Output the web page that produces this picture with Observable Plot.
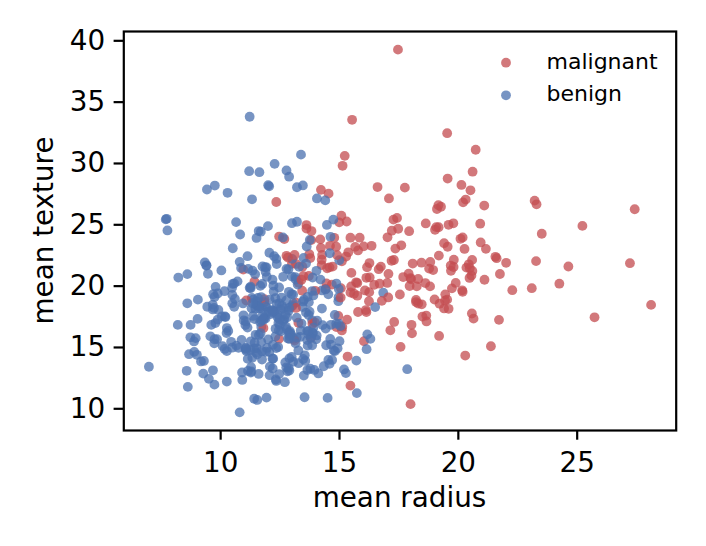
<!DOCTYPE html>
<html>
<head>
<meta charset="utf-8">
<script src="https://cdn.jsdelivr.net/npm/d3@7"></script>
<script src="https://cdn.jsdelivr.net/npm/@observablehq/plot@0.6"></script>
<style>
  html, body { margin: 0; padding: 0; background: white; }
  svg { display: block; }
</style>
</head>
<body>
<div id="chart"></div>
<script>
// mean radius (x) per sample, in data order
const radius = [
17.99,20.57,19.69,11.42,20.29,12.45,18.25,13.71,13,12.46,
16.02,15.78,19.17,15.85,13.73,14.54,14.68,16.13,19.81,13.54,
13.08,9.504,15.34,21.16,16.65,17.14,14.58,18.61,15.3,17.57,
18.63,11.84,17.02,19.27,16.13,16.74,14.25,13.03,14.99,13.48,
13.44,10.95,19.07,13.28,13.17,18.65,8.196,13.17,12.05,13.49,
11.76,13.64,11.94,18.22,15.1,11.52,19.21,14.71,13.05,8.618,
10.17,8.598,14.25,9.173,12.68,14.78,9.465,11.31,9.029,12.78,
18.94,8.888,17.2,13.8,12.31,16.07,13.53,18.05,20.18,12.86,
11.45,13.34,25.22,19.1,12,18.46,14.48,19.02,12.36,14.64,
14.62,15.37,13.27,13.45,15.06,20.26,12.18,9.787,11.6,14.42,
13.61,6.981,12.18,9.876,10.49,13.11,11.64,12.36,22.27,11.34,
9.777,12.63,14.26,10.51,8.726,11.93,8.95,14.87,15.78,17.95,
11.41,18.66,24.25,14.5,13.37,13.85,13.61,19,15.1,19.79,
12.19,15.46,16.16,15.71,18.45,12.77,11.71,11.43,14.95,11.28,
9.738,16.11,11.43,12.9,10.75,11.9,11.8,14.95,14.44,13.74,
13,8.219,9.731,11.15,13.15,12.25,17.68,16.84,12.06,10.9,
11.75,19.19,19.59,12.34,23.27,14.97,10.8,16.78,17.47,14.97,
12.32,13.43,15.46,11.08,10.66,8.671,9.904,16.46,13.01,12.81,
27.22,21.09,15.7,11.41,15.28,10.08,18.31,11.71,11.81,12.3,
14.22,12.77,9.72,12.34,14.86,12.91,13.77,18.08,19.18,14.45,
12.23,17.54,23.29,13.81,12.47,15.12,9.876,17.01,13.11,15.27,
20.58,11.84,28.11,17.42,14.19,13.86,11.89,10.2,19.8,19.53,
13.65,13.56,10.18,15.75,13.27,14.34,10.44,15,12.62,12.83,
17.05,11.32,11.22,20.51,9.567,14.03,23.21,20.48,14.22,17.46,
13.64,12.42,11.3,13.75,19.4,10.48,13.2,12.89,10.65,11.52,
20.94,11.5,19.73,17.3,19.45,13.96,19.55,15.32,15.66,15.53,
20.31,17.35,17.29,15.61,17.19,20.73,10.6,13.59,12.87,10.71,
14.29,11.29,21.75,9.742,17.93,11.89,11.33,18.81,13.59,13.85,
19.16,11.74,19.4,16.24,12.89,12.58,11.94,12.89,11.26,11.37,
14.41,14.96,12.95,11.85,12.72,13.77,10.91,11.76,14.26,10.51,
19.53,12.46,20.09,10.49,11.46,11.6,13.2,9,13.5,13.05,
11.7,14.61,12.76,11.54,8.597,12.49,12.18,18.22,9.042,12.43,
10.25,20.16,12.86,20.34,12.2,12.67,14.11,12.03,16.27,16.26,
16.03,12.98,11.22,11.25,12.3,17.06,12.99,18.77,10.05,23.51,
14.42,9.606,11.06,19.68,11.71,10.26,12.06,14.76,11.47,11.95,
11.66,15.75,25.73,15.08,11.14,12.56,13.05,13.87,8.878,9.436,
12.54,13.3,12.76,16.5,13.4,20.44,20.2,12.21,21.71,22.01,
16.35,15.19,21.37,20.64,13.69,16.17,10.57,13.46,13.66,11.08,
11.27,11.04,12.05,12.39,13.28,14.6,12.21,13.88,11.27,19.55,
10.26,8.734,15.49,21.61,12.1,14.06,13.51,12.8,11.06,11.8,
17.91,11.93,12.96,12.94,12.34,10.94,16.14,12.85,17.99,12.27,
11.36,11.04,9.397,14.99,15.13,11.89,9.405,15.5,12.7,11.16,
11.57,14.69,11.61,13.66,9.742,10.03,10.48,10.8,11.13,12.72,
14.9,12.4,20.18,18.82,14.86,13.98,12.87,14.04,13.85,14.02,
10.97,17.27,13.78,10.57,18.03,11.99,17.75,14.8,14.53,21.1,
11.87,19.59,12,14.53,12.62,13.38,11.63,13.21,13,9.755,
17.08,27.42,14.4,11.6,13.17,13.24,13.14,9.668,17.6,11.62,
9.667,12.04,14.92,12.27,10.88,12.83,14.2,13.9,11.49,16.25,
12.16,13.9,13.47,13.7,15.73,12.45,14.64,19.44,11.68,16.69,
12.25,17.85,18.01,12.46,13.16,14.87,12.65,12.47,18.49,20.59,
15.04,13.82,12.54,23.09,9.268,9.676,12.22,11.06,16.3,15.46,
11.74,14.81,13.4,14.58,15.05,11.34,18.31,19.89,12.88,12.75,
9.295,24.63,11.26,13.71,9.847,8.571,13.46,12.34,13.94,12.07,
11.75,11.67,13.68,20.47,10.96,20.55,14.27,11.69,7.729,7.691,
11.54,14.47,14.74,13.21,13.87,13.62,10.32,10.26,9.683,10.82,
10.86,11.13,12.77,9.333,12.88,10.29,10.16,9.423,14.59,11.51,
14.05,11.2,15.22,20.92,21.56,20.13,16.6,20.6,7.76
];

// mean texture (y) per sample, same order
const texture = [
10.38,17.77,21.25,20.38,14.34,15.7,19.98,20.83,21.82,24.04,
23.24,17.89,24.8,23.95,22.61,27.54,20.13,20.68,22.15,14.36,
15.71,12.44,14.26,23.04,21.38,16.4,21.53,20.25,25.27,15.05,
25.11,18.7,23.98,26.47,17.88,21.59,21.72,18.42,25.2,20.82,
21.58,21.35,24.81,20.28,21.81,17.6,16.84,18.66,14.63,22.3,
21.6,16.34,18.24,18.7,22.02,18.75,18.57,21.59,19.31,11.79,
14.88,20.98,22.15,13.86,23.84,23.94,21.01,19.04,17.33,16.49,
21.31,14.64,24.52,15.79,16.52,19.65,10.94,16.15,23.97,18,
20.97,15.86,24.91,26.29,15.65,18.52,21.46,24.59,21.8,15.24,
24.02,22.76,14.76,18.3,19.83,23.03,17.84,19.94,12.84,19.77,
24.98,13.43,20.52,19.4,19.29,15.56,18.33,18.54,19.67,21.26,
16.99,20.76,19.65,20.19,15.83,21.53,15.76,16.67,22.91,20.01,
10.82,17.12,20.2,10.89,16.39,17.21,24.69,18.91,16.39,25.12,
13.29,19.48,21.54,13.93,21.91,22.47,16.67,15.39,17.57,13.39,
11.97,18.05,17.31,15.92,14.97,14.65,16.58,18.77,15.18,17.91,
20.78,20.7,15.34,13.08,15.34,17.94,20.74,19.46,12.74,12.96,
20.18,15.94,18.15,22.22,22.04,19.76,9.71,18.8,24.68,16.95,
12.39,19.63,11.89,14.71,15.15,14.45,18.06,20.11,22.22,13.06,
21.87,26.57,20.31,14.92,22.41,15.11,18.58,17.19,17.39,15.9,
23.12,21.41,18.22,26.86,23.21,16.33,22.29,21.84,22.49,20.22,
19.56,19.32,26.67,23.75,18.6,16.68,17.27,20.26,22.54,12.91,
22.14,18.94,18.47,25.56,23.81,16.93,18.35,17.48,21.56,32.47,
13.16,13.9,17.53,20.25,17.02,13.47,15.46,15.51,23.97,22.33,
19.08,27.08,33.81,27.81,15.91,21.25,26.97,21.46,27.85,39.28,
15.6,15.04,18.19,23.77,23.5,19.86,17.43,14.11,25.22,14.93,
23.56,18.45,19.82,17.08,19.33,17.05,28.77,17.27,23.2,33.56,
27.06,23.06,22.13,19.38,22.07,31.12,18.95,21.84,16.21,20.39,
16.82,13.04,20.99,15.67,24.48,17.36,14.16,19.98,17.84,15.18,
26.6,14.02,18.18,18.77,15.7,18.4,20.76,13.12,19.96,18.89,
19.73,19.1,16.02,17.46,13.78,13.27,12.35,18.14,18.17,23.09,
18.9,19.89,23.86,18.61,18.16,24.49,15.82,14.4,12.71,13.84,
19.11,15.69,13.37,10.72,18.6,16.85,14.08,18.87,18.9,17,
16.18,19.66,13.32,21.51,15.21,17.3,12.88,17.93,20.71,21.88,
15.51,19.35,19.86,14.78,19.02,21,14.23,21.43,17.53,24.27,
16.54,16.84,14.96,21.68,15.45,12.22,18.9,14.74,16.03,14.96,
17.07,19.22,17.46,25.74,14.07,19.07,18.59,16.21,15.49,18.32,
18.07,21.57,18.84,18.29,16.95,21.78,26.83,18.02,17.25,21.9,
23.29,13.21,15.1,17.35,16.07,16.07,20.22,28.21,15.15,18.83,
12.96,14.93,22.72,17.48,13.72,23.29,14.09,16.16,15.5,23.21,
14.71,16.84,19.97,22.28,17.72,17.18,18.89,17.46,14.83,17.26,
21.02,10.91,18.29,16.17,14.95,18.59,14.86,21.37,20.66,17.92,
17.57,16.83,21.68,22.11,29.81,21.17,21.7,21.08,12.17,21.41,
19.04,13.98,16.02,19.13,19.12,21.28,14.98,21.98,16.62,17.67,
22.53,17.68,19.54,21.97,16.94,19.62,19.54,15.98,19.6,15.66,
17.2,25.42,15.79,18.32,16.85,24.89,28.03,17.66,19.34,20.52,
21.54,25,28.23,13.98,17.15,30.72,29.29,25.25,25.13,28.2,
27.15,26.27,26.99,18.36,18.22,20.13,20.74,18.1,23.33,18.18,
18.49,28.14,14.93,29.97,15.62,15.73,20.53,16.62,14.59,19.51,
18.03,19.24,14.06,17.64,11.28,16.41,16.85,18.82,16.17,20.2,
22.44,13.23,20.56,12.83,20.54,20.21,18.17,17.31,17.52,21.24,
16.74,24.49,16.32,19.83,12.87,13.14,20.04,17.12,15.7,23.95,
14.69,14.7,20.52,13.66,19.07,18.61,20.58,20.26,18.22,16.7,
13.9,21.6,19.83,18.68,15.68,13.1,18.75,12.27,13.17,13.44,
17.56,20.02,16.33,20.67,17.62,20.86,22.55,24.44,25.49,25.44,
14.44,24.99,25.42,28.06,20.7,23.23,16.35,16.58,19.34,24.21,
21.48,22.44,29.43,21.94,28.92,27.61,19.59,27.88,22.68,23.93,
27.15,29.37,30.62,25.09,22.39,28.25,28.08,29.33,24.54
];

// diagnosis per sample: M = malignant, B = benign
const diagnosisCodes = (
"MMMMMMMMMM" + "MMMMMMMMMB" + "BBMMMMMMMM" + "MMMMMMMBMM" + "MMMMMMBMBB" +
"BBBMMBMMBB" + "BBMBMMBBBB" + "MBMMBMBMMB" + "BBMMBMMMBB" + "BMBBMMBBBM" +
"MBBBBMBBMB" + "BBBBBBBMMM" + "BMMBBBMMMM" + "BMMBMMBBMB" + "BMBBBBMBBB" +
"BBBBBBMBBB" + "BMMBMBBMMB" + "BMMBBBBMBB" + "MMMBMBMBBB" + "MBBMMBMMMM" +
"BMMMBMBMMB" + "MMMMMMBBMM" + "BBBMMBBBBM" + "MBBMBBMMMM" + "BBBBMBBBBB" +
"MBMMMMMMMM" + "MMMMMMBBBB" + "BBMBMBBMBB" + "MBMMBBBBBB" + "BBBBBBBBBB" +
"MBMBBBBBBB" + "BBBBBBBMBB" + "BMBMBBBBMM" + "MBBBBMBMBM" + "BBBMBBBBBB" +
"BMMMBBBBBB" + "BBBBBMMBMM" + "MBMMBBBBBM" + "BBBBBMBBBM" + "BBMMBBBBBB" +
"MBBBBBBBMB" + "BBBBMBBMBB" + "BBBBBBBBBB" + "MBMMBMBBBB" + "BMBBMBMBBM" +
"BMBBBBBBBB" + "MMBBMBBBMB" + "BBBBBBBBBM" + "BBBBBBBMBM" + "BBMBBBBBMM" +
"BMBMBBBBBM" + "BBMBMBMMBB" + "BMBBBBBBBB" + "BBBMBMMBBB" + "BBBBBBBBBB" +
"BBBBBBBBBB" + "BBMMMMMMB"
).split("");

const classes = ["malignant", "benign"];
const classColors = ["#c44e52", "#4c72b0"];
const xTicks = [10, 15, 20, 25];
const yTicks = [10, 15, 20, 25, 30, 35, 40];
const xLabel = "mean radius";
const yLabel = "mean texture";

const rows = radius.map((r, i) => ({
  radius: r,
  texture: texture[i],
  diagnosis: diagnosisCodes[i] === "M" ? "malignant" : "benign"
}));

const W = 706, H = 546;
const mL = 123.3, mR = 30.3, mT = 31, mB = 116;
const opacity = 0.76;
const dotR = 4.9;

const svg = Plot.plot({
  width: W,
  height: H,
  marginLeft: mL,
  marginRight: mR,
  marginTop: mT,
  marginBottom: mB,
  style: { fontFamily: "DejaVu Sans", fontSize: "27.8px", color: "black", background: "white", overflow: "visible" },
  x: { domain: [5.925, 29.166] },
  y: { domain: [8.231, 40.759] },
  color: { domain: classes, range: classColors },
  marks: [
    Plot.dot(rows, { x: "radius", y: "texture", fill: "diagnosis", r: dotR, fillOpacity: opacity, stroke: "none" }),
    Plot.frame({ stroke: "black", strokeWidth: 2.2 }),
    Plot.axisX({ ticks: xTicks, tickSize: 9.7, tickPadding: 12.3, strokeWidth: 2.2, label: null, fontSize: 27.8 }),
    Plot.axisY({ ticks: yTicks, tickSize: 9.7, tickPadding: 9, strokeWidth: 2.2, label: null, fontSize: 27.8 })
  ]
});

const s = d3.select(svg);
const cx = mL + (W - mL - mR) / 2;
const cy = mT + (H - mT - mB) / 2;
s.append("text")
  .attr("x", cx).attr("y", 507)
  .attr("text-anchor", "middle")
  .attr("font-family", "DejaVu Sans").attr("font-size", 27.8).attr("fill", "black")
  .text(xLabel);
s.append("text")
  .attr("transform", `translate(53,${cy}) rotate(-90)`)
  .attr("text-anchor", "middle")
  .attr("font-family", "DejaVu Sans").attr("font-size", 27.8).attr("fill", "black")
  .text(yLabel);

// legend (top right, no frame)
const leg = s.append("g");
classes.forEach((c, i) => {
  const y = 62.7 + i * 32.6;
  leg.append("circle").attr("cx", 506).attr("cy", y).attr("r", dotR)
    .attr("fill", classColors[i]).attr("fill-opacity", opacity);
  leg.append("text").attr("x", 546.5).attr("y", y + 5.8)
    .attr("text-anchor", "start")
    .attr("font-family", "DejaVu Sans").attr("font-size", 22).attr("fill", "black")
    .text(c);
});

document.getElementById("chart").appendChild(svg);
</script>
</body>
</html>
